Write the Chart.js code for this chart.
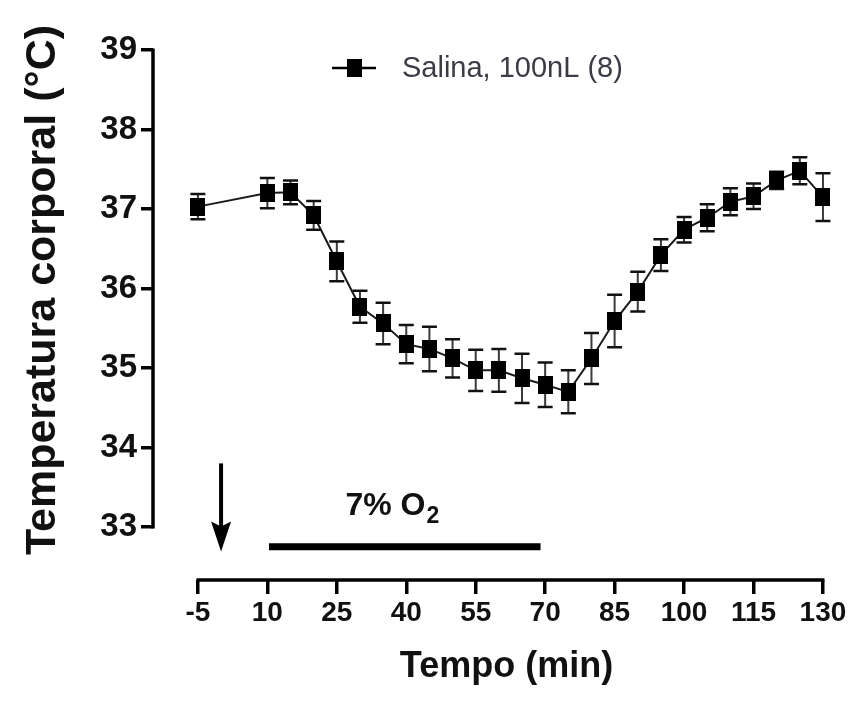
<!DOCTYPE html>
<html>
<head>
<meta charset="utf-8">
<script src="https://cdn.jsdelivr.net/npm/chart.js@4.4.1/dist/chart.umd.min.js"></script>
<style>
  html, body { margin: 0; padding: 0; background: #ffffff; }
  #wrap { width: 863px; height: 701px; position: relative; }
</style>
</head>
<body>
<div id="wrap"><canvas id="c"></canvas></div>
<script>
// ---------- data ----------
const times    = [-5, 10, 15, 20, 25, 30, 35, 40, 45, 50, 55, 60, 65, 70, 75, 80, 85, 90, 95, 100, 105, 110, 115, 120, 125, 130];
const meanTemp = [37.03, 37.20, 37.21, 36.92, 36.34, 35.77, 35.56, 35.30, 35.24, 35.12, 34.97, 34.97, 34.87, 34.79, 34.70, 35.12, 35.59, 35.96, 36.42, 36.74, 36.89, 37.09, 37.16, 37.36, 37.48, 37.15];
const semTemp  = [0.16, 0.19, 0.15, 0.18, 0.25, 0.20, 0.26, 0.24, 0.28, 0.24, 0.26, 0.27, 0.31, 0.28, 0.27, 0.32, 0.33, 0.25, 0.20, 0.16, 0.17, 0.17, 0.16, 0.11, 0.17, 0.30];
const xTickValues = [-5, 10, 25, 40, 55, 70, 85, 100, 115, 130];
const yTickValues = [33, 34, 35, 36, 37, 38, 39];
const seriesLabel = 'Salina, 100nL (8)';
const xTitle = 'Tempo (min)';
const yTitle = 'Temperatura corporal (°C)';
const hypoxiaLabel = '7% O';
const hypoxiaSub = '2';
const hypoxiaStart = 11, hypoxiaEnd = 69;      // minutes
const injectionTime = 0;                        // minutes

// ---------- styling / layout ----------
const FONT = '"Liberation Sans", Arial, Helvetica, sans-serif';
const xRange = { min: -14.7, max: 138 };
const yRange = { min: 32.333, max: 39.629 };

function makeMarker(w, h) {
  const c = document.createElement('canvas');
  c.width = w; c.height = h;
  const g = c.getContext('2d');
  g.fillStyle = '#000';
  g.fillRect(0, 0, w, h);
  return c;
}
const markerImg = makeMarker(15, 18);

const points = times.map((t, i) => ({ x: t, y: meanTemp[i] }));

const axesPlugin = {
  id: 'gpAxes',
  beforeDatasetsDraw(chart) {
    const { ctx, chartArea, scales: { x, y } } = chart;
    ctx.save();
    ctx.strokeStyle = '#000';
    ctx.lineWidth = 3.5;
    ctx.lineCap = 'butt';
    ctx.beginPath();
    ctx.moveTo(chartArea.left, y.getPixelForValue(yTickValues[yTickValues.length - 1]) - 1.5);
    ctx.lineTo(chartArea.left, y.getPixelForValue(yTickValues[0]) + 1.5);
    ctx.stroke();
    ctx.beginPath();
    ctx.moveTo(x.getPixelForValue(xTickValues[0]) - 1.5, chartArea.bottom);
    ctx.lineTo(x.getPixelForValue(xTickValues[xTickValues.length - 1]) + 1.5, chartArea.bottom);
    ctx.stroke();
    ctx.restore();
  }
};

const errorBarPlugin = {
  id: 'errorBars',
  beforeDatasetsDraw(chart) {
    const { ctx, scales: { x, y } } = chart;
    ctx.save();
    const cap = 7.5;
    times.forEach((t, i) => {
      const px = x.getPixelForValue(t);
      const hi = y.getPixelForValue(meanTemp[i] + semTemp[i]);
      const lo = y.getPixelForValue(meanTemp[i] - semTemp[i]);
      ctx.strokeStyle = '#3a3a3a';
      ctx.lineWidth = 2;
      ctx.beginPath(); ctx.moveTo(px, hi); ctx.lineTo(px, lo); ctx.stroke();
      ctx.strokeStyle = '#111';
      ctx.lineWidth = 2.5;
      ctx.beginPath();
      ctx.moveTo(px - cap, hi); ctx.lineTo(px + cap, hi);
      ctx.moveTo(px - cap, lo); ctx.lineTo(px + cap, lo);
      ctx.stroke();
    });
    ctx.restore();
  }
};

const annotationPlugin = {
  id: 'annotations',
  afterDraw(chart) {
    const { ctx, scales: { x, y } } = chart;
    ctx.save();
    // injection arrow
    const ax = x.getPixelForValue(injectionTime);
    const aTop = y.getPixelForValue(33.80);
    const aTip = y.getPixelForValue(32.69);
    ctx.strokeStyle = '#000';
    ctx.fillStyle = '#000';
    ctx.lineWidth = 4;
    ctx.beginPath(); ctx.moveTo(ax, aTop); ctx.lineTo(ax, aTip - 20); ctx.stroke();
    ctx.beginPath();
    ctx.moveTo(ax - 10, aTip - 30);
    ctx.lineTo(ax, aTip - 25);
    ctx.lineTo(ax + 10, aTip - 30);
    ctx.lineTo(ax, aTip);
    ctx.closePath();
    ctx.fill();
    // hypoxia bar
    const by = y.getPixelForValue(32.75);
    ctx.lineWidth = 7;
    ctx.lineCap = 'butt';
    ctx.beginPath();
    ctx.moveTo(x.getPixelForValue(hypoxiaStart) - 3, by);
    ctx.lineTo(x.getPixelForValue(hypoxiaEnd), by);
    ctx.stroke();
    // label
    const mainFont = 'bold 32px ' + FONT;
    const subFont = 'bold 23px ' + FONT;
    ctx.font = mainFont;
    const w1 = ctx.measureText(hypoxiaLabel).width;
    ctx.font = subFont;
    const w2 = ctx.measureText(hypoxiaSub).width;
    const cx = x.getPixelForValue(37);
    const base = y.getPixelForValue(33.15);
    const left = cx - (w1 + w2 + 1) / 2;
    ctx.fillStyle = '#111';
    ctx.textAlign = 'left';
    ctx.textBaseline = 'alphabetic';
    ctx.font = mainFont;
    ctx.fillText(hypoxiaLabel, left, base);
    ctx.font = subFont;
    ctx.fillText(hypoxiaSub, left + w1 + 1, base + 8);
    ctx.restore();
  }
};

const legendPlugin = {
  id: 'gpLegend',
  afterDraw(chart) {
    const ctx = chart.ctx;
    ctx.save();
    const ly = 68;
    ctx.strokeStyle = '#000';
    ctx.lineWidth = 2.5;
    ctx.beginPath(); ctx.moveTo(332, ly); ctx.lineTo(376, ly); ctx.stroke();
    ctx.drawImage(markerImg, 354 - 7.5, ly - 9);
    ctx.fillStyle = '#3c3c46';
    ctx.font = '29px ' + FONT;
    ctx.textAlign = 'left';
    ctx.textBaseline = 'middle';
    ctx.fillText(seriesLabel, 402, ly + 1);
    ctx.restore();
  }
};

new Chart(document.getElementById('c'), {
  type: 'line',
  data: {
    datasets: [{
      label: seriesLabel,
      data: points,
      borderColor: '#1a1a1a',
      borderWidth: 2,
      tension: 0,
      pointStyle: markerImg,
      pointRadius: 9,
      pointHoverRadius: 9,
      clip: false
    }]
  },
  options: {
    responsive: true,
    maintainAspectRatio: false,
    animation: false,
    events: [],
    layout: { autoPadding: false, padding: { left: 0, right: 3, top: 0, bottom: 0 } },
    plugins: {
      legend: { display: false },
      tooltip: { enabled: false }
    },
    scales: {
      x: {
        type: 'linear',
        min: xRange.min,
        max: xRange.max,
        afterBuildTicks(scale) { scale.ticks = xTickValues.map(v => ({ value: v })); },
        afterFit(scale) { scale.height = 121; scale.paddingLeft = 0; scale.paddingRight = 0; },
        border: { display: false },
        grid: { display: true, drawOnChartArea: false, drawTicks: true, tickLength: 14, lineWidth: 3.5, color: '#000' },
        ticks: {
          autoSkip: false, maxRotation: 0, padding: 2,
          color: '#111',
          font: { family: FONT, size: 28, weight: 'bold' }
        },
        title: {
          display: true, text: xTitle, color: '#111',
          font: { family: FONT, size: 36, weight: 'bold' },
          padding: { top: 0, bottom: 12 }
        }
      },
      y: {
        type: 'linear',
        min: yRange.min,
        max: yRange.max,
        afterBuildTicks(scale) { scale.ticks = yTickValues.map(v => ({ value: v })); },
        afterFit(scale) { scale.width = 153; scale.paddingTop = 0; scale.paddingBottom = 0; },
        border: { display: false },
        grid: { display: true, drawOnChartArea: false, drawTicks: true, tickLength: 12, lineWidth: 3.5, color: '#000' },
        ticks: {
          autoSkip: false, padding: 4,
          color: '#111',
          font: { family: FONT, size: 33, weight: 'bold' }
        },
        title: {
          display: true, text: yTitle, color: '#111',
          font: { family: FONT, size: 43, weight: 'bold' },
          padding: { top: 17, bottom: 0 }
        }
      }
    }
  },
  plugins: [axesPlugin, errorBarPlugin, annotationPlugin, legendPlugin]
});
</script>
</body>
</html>
